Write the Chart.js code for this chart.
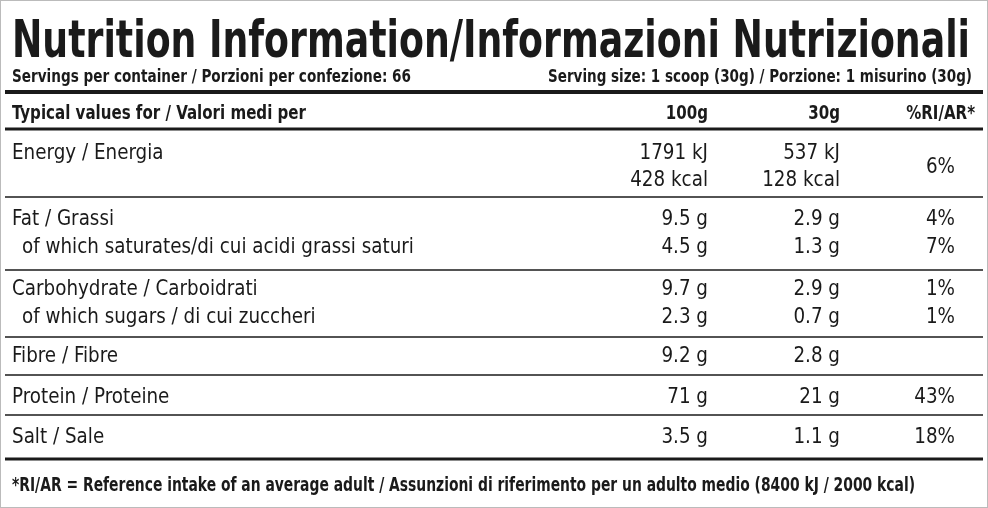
<!DOCTYPE html>
<html><head><meta charset="utf-8">
<script src="https://cdn.jsdelivr.net/npm/chart.js@4"></script>
<style>html,body{margin:0;padding:0;background:#fff}#w{width:988px;height:508px;position:relative}</style>
</head><body><div id="w"><canvas id="c"></canvas></div>
<script>
const title = "Nutrition Information/Informazioni Nutrizionali";
const servings = "Servings per container / Porzioni per confezione: 66";
const servingSize = "Serving size: 1 scoop (30g) / Porzione: 1 misurino (30g)";
const headers = ["Typical values for / Valori medi per", "100g", "30g", "%RI/AR*"];
const nutrients = ["Energy / Energia", "", "Fat / Grassi", "  of which saturates/di cui acidi grassi saturi",
  "Carbohydrate / Carboidrati", "  of which sugars / di cui zuccheri", "Fibre / Fibre", "Protein / Proteine", "Salt / Sale"];
const per100 = ["1791 kJ", "428 kcal", "9.5 g", "4.5 g", "9.7 g", "2.3 g", "9.2 g", "71 g", "3.5 g"];
const per30 = ["537 kJ", "128 kcal", "2.9 g", "1.3 g", "2.9 g", "0.7 g", "2.8 g", "21 g", "1.1 g"];
const riPct = ["", "6%", "4%", "7%", "1%", "1%", "", "43%", "18%"];
const footnote = "*RI/AR = Reference intake of an average adult / Assunzioni di riferimento per un adulto medio (8400 kJ / 2000 kcal)";

const rowY = [152, 179, 218, 246, 288, 316, 355, 396, 436];
const riY = [null, 166, 218, 246, 288, 316, null, 396, 436];
const FONT = "'Liberation Sans Narrow','DejaVu Sans Condensed','Roboto',sans-serif";

const tablePlugin = {
  id: 'table',
  afterDraw(chart) {
    const ctx = chart.ctx, xs = chart.scales.x, ys = chart.scales.y;
    const X = v => xs.getPixelForValue(v), Y = v => ys.getPixelForValue(v);
    ctx.save();
    ctx.fillStyle = '#1a1a1a'; ctx.strokeStyle = '#1a1a1a';
    ctx.textBaseline = 'alphabetic';
    const text = (s, x, y, font, align, sx, width) => {
      ctx.save(); ctx.font = font; ctx.textAlign = align;
      if (width) sx = width / ctx.measureText(s).width;
      ctx.translate(X(x), Y(y)); ctx.scale(sx || 1, 1); ctx.fillText(s, 0, 0); ctx.restore();
    };
    const hline = (y, w) => { ctx.lineWidth = w; ctx.beginPath(); ctx.moveTo(X(5), Y(y)); ctx.lineTo(X(983), Y(y)); ctx.stroke(); };
    ctx.strokeStyle = '#bbb'; ctx.lineWidth = 1; ctx.strokeRect(0.5, 0.5, 987, 507); ctx.strokeStyle = '#1a1a1a';
    text(title, 12, 57, "bold 52px " + FONT, 'left', 1, 958);
    text(servings, 12, 82, "bold 17px " + FONT, 'left', 1, 399);
    text(servingSize, 972, 82, "bold 17px " + FONT, 'right', 1, 424);
    hline(92, 4);
    const hb = "bold 19px " + FONT, hs = 0.88;
    text(headers[0], 12, 119, hb, 'left', 1, 294);
    text(headers[1], 708, 119, hb, 'right', hs);
    text(headers[2], 840, 119, hb, 'right', hs);
    text(headers[3], 975, 119, hb, 'right', hs);
    hline(129, 3);
    [197, 270, 337, 375, 415].forEach(y => hline(y, 1.5));
    hline(459, 3);
    const f = "21px " + FONT, bs = 0.97;
    nutrients.forEach((n, i) => {
      const y = rowY[i] + 7;
      if (n) text(n.trim(), n.startsWith("  ") ? 22 : 12, y, f, 'left', bs);
      text(per100[i], 708, y, f, 'right', bs);
      text(per30[i], 840, y, f, 'right', bs);
      if (riPct[i]) text(riPct[i], 955, riY[i] + 7, f, 'right', bs);
    });
    text(footnote, 12, 491, "bold 19px " + FONT, 'left', 1, 903);
    ctx.restore();
  }
};

new Chart(document.getElementById('c'), {
  type: 'scatter',
  data: { datasets: [{ data: [], pointRadius: 0 }] },
  options: {
    responsive: true, maintainAspectRatio: false, animation: false,
    layout: { padding: 0 },
    plugins: { legend: { display: false }, tooltip: { enabled: false } },
    scales: {
      x: { type: 'linear', min: 0, max: 988, display: false },
      y: { type: 'linear', min: 0, max: 508, reverse: true, display: false }
    }
  },
  plugins: [tablePlugin]
});
</script></body></html>
